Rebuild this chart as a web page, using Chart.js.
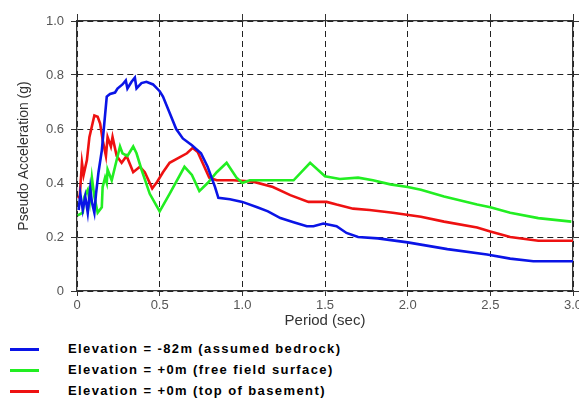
<!DOCTYPE html>
<html>
<head>
<meta charset="utf-8">
<script src="https://cdn.jsdelivr.net/npm/chart.js@4"></script>
<style>
  html, body { margin: 0; padding: 0; background: #fff; overflow: hidden; }
  #wrap { position: relative; width: 579px; height: 401px; }
  #c { position: absolute; left: 0; top: 0; }
  .leg { position: absolute; left: 0; height: 20px; font: bold 13px "Liberation Sans", Arial, sans-serif; color: #000; letter-spacing: 1.4px; white-space: nowrap; }
  .leg .ln { position: absolute; left: 10px; top: 8px; width: 29px; height: 3px; }
  .leg .tx { position: absolute; left: 68px; top: 1px; }
</style>
</head>
<body>
<div id="wrap">
  <canvas id="c" width="579" height="335"></canvas>
</div>
<script>
// ---- data ----
const seriesLabels = [
  'Elevation = -82m (assumed bedrock)',
  'Elevation = +0m (free field surface)',
  'Elevation = +0m (top of basement)'
];
const seriesColors = ['#0a14e6', '#22ee22', '#ee1111'];

const xTickLabels = ['0', '0.5', '1.0', '1.5', '2.0', '2.5', '3.0'];
const yTickLabels = ['0', '0.2', '0.4', '0.6', '0.8', '1.0'];

const bedrockPeriod = [0.01,0.02,0.035,0.05,0.065,0.08,0.09,0.105,0.115,0.13,0.15,0.165,0.18,0.20,0.23,0.245,0.275,0.295,0.305,0.33,0.35,0.36,0.39,0.42,0.46,0.50,0.52,0.56,0.60,0.64,0.695,0.75,0.79,0.835,0.855,0.925,1.0,1.09,1.155,1.23,1.31,1.39,1.43,1.49,1.57,1.63,1.70,1.82,2.0,2.24,2.48,2.62,2.76,3.0];
const bedrockAccel  = [0.30,0.36,0.30,0.35,0.29,0.38,0.33,0.29,0.36,0.44,0.52,0.62,0.72,0.73,0.735,0.75,0.765,0.78,0.75,0.775,0.79,0.75,0.77,0.775,0.765,0.74,0.72,0.66,0.60,0.565,0.54,0.51,0.46,0.385,0.345,0.34,0.33,0.31,0.295,0.27,0.255,0.24,0.24,0.25,0.24,0.215,0.20,0.195,0.18,0.155,0.135,0.12,0.11,0.11];

const freeFieldPeriod = [0.004,0.035,0.045,0.065,0.077,0.09,0.105,0.125,0.15,0.155,0.17,0.18,0.185,0.21,0.23,0.26,0.275,0.305,0.34,0.36,0.39,0.44,0.50,0.56,0.65,0.695,0.74,0.79,0.845,0.905,0.965,1.0,1.045,1.17,1.31,1.41,1.50,1.59,1.70,1.79,1.895,2.0,2.08,2.22,2.42,2.50,2.62,2.79,2.99];
const freeFieldAccel  = [0.28,0.29,0.35,0.375,0.33,0.42,0.35,0.29,0.31,0.385,0.42,0.40,0.45,0.41,0.46,0.535,0.51,0.50,0.535,0.51,0.45,0.36,0.295,0.36,0.46,0.43,0.37,0.40,0.44,0.475,0.42,0.40,0.41,0.41,0.41,0.475,0.425,0.415,0.42,0.41,0.395,0.385,0.375,0.35,0.32,0.31,0.29,0.27,0.257];

const basementPeriod = [0.004,0.016,0.03,0.04,0.06,0.075,0.105,0.125,0.14,0.155,0.175,0.185,0.205,0.215,0.24,0.27,0.30,0.34,0.38,0.41,0.455,0.485,0.52,0.56,0.665,0.70,0.73,0.80,0.845,0.945,1.065,1.185,1.29,1.40,1.51,1.57,1.67,1.77,1.91,2.08,2.22,2.42,2.50,2.62,2.79,3.0];
const basementAccel  = [0.35,0.345,0.475,0.43,0.485,0.57,0.65,0.645,0.62,0.56,0.50,0.57,0.535,0.57,0.50,0.475,0.50,0.44,0.46,0.44,0.38,0.405,0.44,0.475,0.51,0.53,0.515,0.42,0.41,0.41,0.405,0.385,0.355,0.33,0.33,0.32,0.305,0.30,0.29,0.275,0.257,0.235,0.22,0.20,0.186,0.186];

const periods = [bedrockPeriod, freeFieldPeriod, basementPeriod];
const accels  = [bedrockAccel, freeFieldAccel, basementAccel];

// ---- chart ----
const FONT = '"Liberation Sans", Arial, sans-serif';
const datasets = seriesLabels.map((lab, i) => ({
  label: lab,
  data: periods[i].map((x, k) => ({ x: x, y: accels[i][k] })),
  borderColor: seriesColors[i],
  borderWidth: 2.6,
  pointRadius: 0,
  tension: 0,
  fill: false
}));

const gridCommon = {
  color: '#222',
  lineWidth: 1,
  tickColor: '#333',
  tickWidth: 1
};

function fixSize(prop, val) {
  return function (s) { s[prop] = val; s.paddingLeft = 0; s.paddingRight = 0; s.paddingTop = 0; s.paddingBottom = 0; };
}

new Chart(document.getElementById('c'), {
  type: 'line',
  data: { datasets: datasets },
  options: {
    responsive: false,
    animation: false,
    events: [],
    layout: { padding: 0 },
    plugins: { legend: { display: false }, tooltip: { enabled: false } },
    scales: {
      x: {
        type: 'linear', position: 'bottom', min: 0, max: 3,
        afterFit: fixSize('height', 44),
        ticks: {
          stepSize: 0.5, padding: 2, color: '#555',
          font: { family: FONT, size: 13 },
          callback: (v, i) => xTickLabels[i]
        },
        grid: Object.assign({}, gridCommon, { tickLength: 5 }),
        border: { display: true, color: '#333', width: 1.3, dash: [6, 4] },
        title: { display: true, text: 'Period (sec)', color: '#333', font: { family: FONT, size: 15 }, padding: { top: 0, bottom: 5 } }
      },
      x2: {
        type: 'linear', position: 'top', min: 0, max: 3,
        afterFit: fixSize('height', 21),
        ticks: { stepSize: 0.5, display: false },
        grid: Object.assign({}, gridCommon, { tickLength: 7, drawOnChartArea: false }),
        border: { display: true, color: '#333', width: 1.3 }
      },
      y: {
        type: 'linear', position: 'left', min: 0, max: 1,
        afterFit: fixSize('width', 77),
        ticks: {
          stepSize: 0.2, padding: 7, color: '#555',
          font: { family: FONT, size: 13 },
          callback: (v, i) => yTickLabels[i]
        },
        grid: Object.assign({}, gridCommon, { tickLength: 6 }),
        border: { display: true, color: '#333', width: 1.3, dash: [6, 4] },
        title: { display: true, text: 'Pseudo Acceleration (g)', color: '#333', font: { family: FONT, size: 14 }, padding: { top: 16, bottom: 0 } }
      },
      y2: {
        type: 'linear', position: 'right', min: 0, max: 1,
        afterFit: fixSize('width', 6),
        ticks: { stepSize: 0.2, display: false },
        grid: Object.assign({}, gridCommon, { tickLength: 6, drawOnChartArea: false }),
        border: { display: true, color: '#333', width: 1.3 }
      }
    }
  }
});

// ---- legend (HTML, built from the series arrays) ----
const wrap = document.getElementById('wrap');
const legTops = [340, 361, 382];
seriesLabels.forEach((lab, i) => {
  const d = document.createElement('div');
  d.className = 'leg';
  d.style.top = legTops[i] + 'px';
  d.style.width = '579px';
  const ln = document.createElement('div');
  ln.className = 'ln';
  ln.style.background = seriesColors[i];
  const tx = document.createElement('div');
  tx.className = 'tx';
  tx.textContent = lab;
  d.appendChild(ln); d.appendChild(tx);
  wrap.appendChild(d);
});
</script>
</body>
</html>
